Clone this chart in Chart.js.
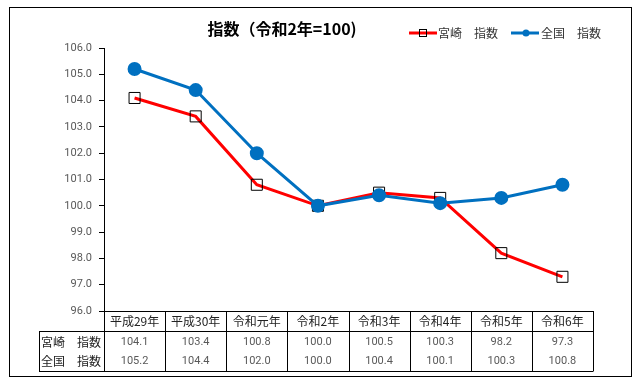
<!DOCTYPE html>
<html>
<head>
<meta charset="utf-8">
<script src="https://cdn.jsdelivr.net/npm/chart.js@4"></script>
<style>
  html, body { margin: 0; padding: 0; background: #fff; }
  #wrap { width: 640px; height: 388px; }
</style>
</head>
<body>
<div id="wrap"><canvas id="myChart" width="640" height="388"></canvas></div>
<script>
// chart data
const labels = ['平成29年', '平成30年', '令和元年', '令和2年', '令和3年', '令和4年', '令和5年', '令和6年'];
const miyazaki = [104.1, 103.4, 100.8, 100.0, 100.5, 100.3, 98.2, 97.3];
const zenkoku = [105.2, 104.4, 102.0, 100.0, 100.4, 100.1, 100.3, 100.8];
const seriesNames = ['宮崎　指数', '全国　指数'];
const titleText = '指数（令和2年=100)';

const jpFont = '"Noto Sans CJK JP", "Noto Sans", sans-serif';

window.onload = function () {
    // draws title, legend, frame and the data table under the plot
    const extras = {
        id: 'extras',
        afterDraw(chart) {
            const ctx = chart.ctx;
            const x = chart.scales.x;
            const area = chart.chartArea;
            ctx.save();

            // outer frame
            ctx.strokeStyle = '#000';
            ctx.lineWidth = 1;
            ctx.strokeRect(9.5, 7.5, 622, 369);

            // title
            ctx.fillStyle = '#000';
            ctx.font = 'bold 16px ' + jpFont;
            ctx.textAlign = 'center';
            ctx.textBaseline = 'middle';
            ctx.fillText(titleText, 282, 29);

            // legend
            ctx.font = '12px ' + jpFont;
            ctx.textAlign = 'left';
            ctx.lineWidth = 3;
            ctx.strokeStyle = '#FF0000';
            ctx.beginPath(); ctx.moveTo(409, 33); ctx.lineTo(437, 33); ctx.stroke();
            ctx.lineWidth = 1;
            ctx.strokeStyle = '#000';
            ctx.strokeRect(419.5, 29.5, 7, 7);
            ctx.fillStyle = '#333';
            ctx.fillText(seriesNames[0], 438, 33);
            ctx.lineWidth = 3;
            ctx.strokeStyle = '#0070C0';
            ctx.beginPath(); ctx.moveTo(511, 33); ctx.lineTo(539, 33); ctx.stroke();
            ctx.fillStyle = '#0070C0';
            ctx.beginPath(); ctx.arc(526, 33, 3.5, 0, Math.PI * 2); ctx.fill();
            ctx.fillStyle = '#333';
            ctx.fillText(seriesNames[1], 541, 33);

            // table
            const top = area.bottom;
            const headBottom = top + 20;
            const bottom = 371;
            const tableLeft = 39;
            const step = x.getPixelForValue(1) - x.getPixelForValue(0);
            ctx.strokeStyle = '#000';
            ctx.lineWidth = 1;
            ctx.beginPath();
            ctx.moveTo(area.left, top + 0.5); ctx.lineTo(area.right, top + 0.5);
            ctx.moveTo(tableLeft, headBottom + 0.5); ctx.lineTo(area.right, headBottom + 0.5);
            ctx.moveTo(tableLeft, bottom + 0.5); ctx.lineTo(area.right, bottom + 0.5);
            ctx.moveTo(tableLeft + 0.5, headBottom); ctx.lineTo(tableLeft + 0.5, bottom);
            for (let i = 0; i <= labels.length; i++) {
                const px = Math.round(x.getPixelForValue(i) - step / 2) + 0.5;
                ctx.moveTo(px, top); ctx.lineTo(px, bottom + 0.5);
            }
            ctx.stroke();

            ctx.textBaseline = 'middle';
            ctx.textAlign = 'center';
            labels.forEach((lab, i) => {
                const cx = x.getPixelForValue(i);
                ctx.font = '12px ' + jpFont;
                ctx.fillStyle = '#222';
                ctx.fillText(lab, cx, top + 10);
                ctx.font = '11px Roboto, sans-serif';
                ctx.fillStyle = '#595959';
                ctx.fillText(miyazaki[i].toFixed(1), cx, headBottom + 11);
                ctx.fillText(zenkoku[i].toFixed(1), cx, headBottom + 30);
            });

            // row labels
            ctx.font = '12px ' + jpFont;
            ctx.fillStyle = '#222';
            const rowY = [headBottom + 11, headBottom + 30];
            seriesNames.forEach((name, r) => {
                const parts = name.split('　');
                ctx.textAlign = 'left';
                ctx.fillText(parts[0], tableLeft + 2, rowY[r]);
                ctx.textAlign = 'right';
                ctx.fillText(parts[1], area.left - 3, rowY[r]);
            });
            ctx.restore();
        }
    };

    const ctx = document.getElementById('myChart');
    new Chart(ctx, {
        type: 'line',
        data: {
            labels: labels,
            datasets: [
                {
                    label: seriesNames[1],
                    data: zenkoku,
                    borderColor: '#0070C0',
                    backgroundColor: '#0070C0',
                    borderWidth: 3,
                    pointStyle: 'circle',
                    pointRadius: 5.5,
                    pointBackgroundColor: '#0070C0',
                    pointBorderColor: '#0070C0',
                    tension: 0,
                },
                {
                    label: seriesNames[0],
                    data: miyazaki,
                    borderColor: '#FF0000',
                    backgroundColor: 'rgba(0,0,0,0)',
                    borderWidth: 3,
                    pointStyle: 'rect',
                    pointRadius: 7.8,
                    pointBorderWidth: 1,
                    pointBackgroundColor: 'rgba(0,0,0,0)',
                    pointBorderColor: '#000',
                    tension: 0,
                },
            ],
        },
        options: {
            responsive: false,
            animation: false,
            layout: { padding: { left: 0, right: 47, top: 48, bottom: 77 } },
            plugins: {
                legend: { display: false },
                title: { display: false },
                tooltip: { enabled: false },
            },
            scales: {
                x: {
                    display: false,
                    offset: true,
                },
                y: {
                    min: 96,
                    max: 106,
                    afterFit: (scale) => { scale.width = 104; },
                    ticks: {
                        stepSize: 1,
                        color: '#595959',
                        font: { size: 11, family: 'Roboto, sans-serif' },
                        padding: 7,
                        callback: (v) => Number(v).toFixed(1),
                    },
                    grid: {
                        drawOnChartArea: false,
                        drawTicks: true,
                        tickLength: 5,
                        color: '#000',
                    },
                    border: { display: true, color: '#000', width: 1 },
                },
            },
        },
        plugins: [extras],
    });
};
</script>
</body>
</html>
